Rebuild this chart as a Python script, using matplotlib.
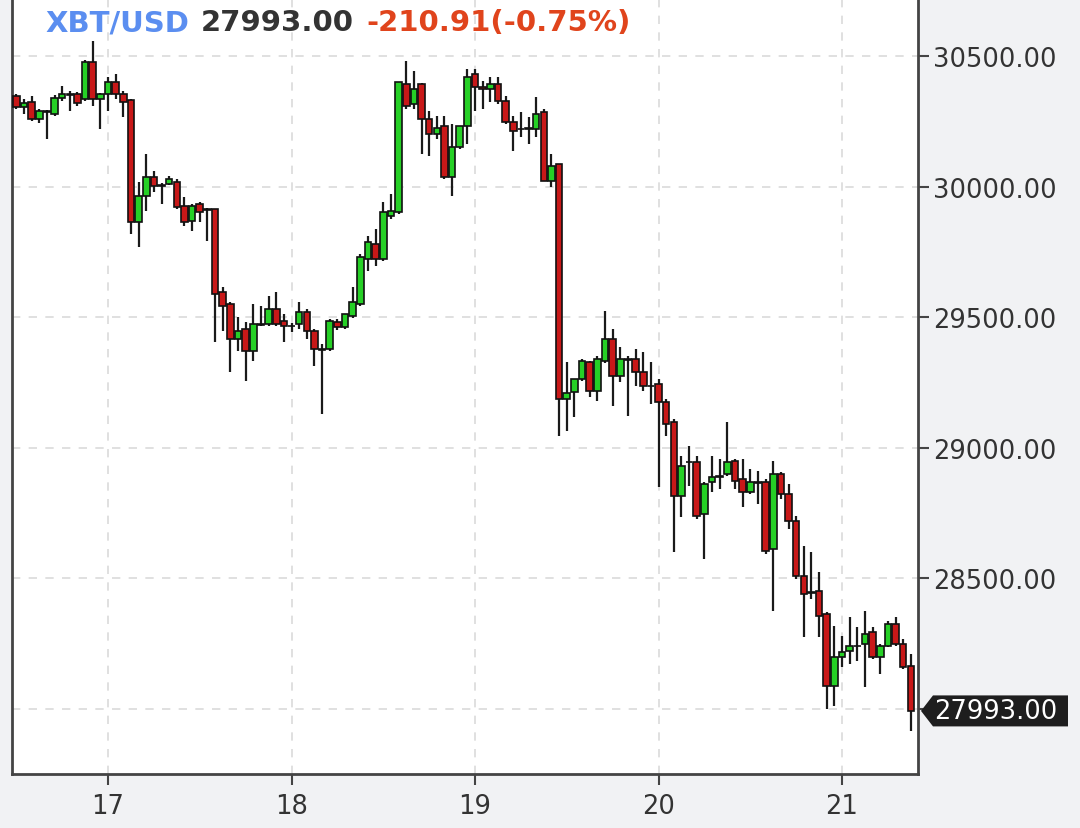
import numpy as np
import matplotlib.pyplot as plt
from matplotlib.patches import Polygon

# === Datos: velas horarias XBT/USD, del 16 12:00 al 21 09:00 ===
first_candle = 16.5  # día 16, 12:00

opens = [30347, 30305, 30324, 30259, 30290, 30278, 30339, 30355, 30355, 30335,
         30477, 30335, 30355, 30401, 30355, 30332, 29865, 29964, 30037, 30006,
         30010, 30018, 29926, 29868, 29934, 29914, 29914, 29597, 29551, 29417,
         29455, 29371, 29474, 29474, 29532, 29486, 29466, 29474, 29520, 29447,
         29378, 29378, 29482, 29463, 29505, 29551, 29723, 29780, 29723, 29888,
         29903, 30393, 30316, 30393, 30259, 30201, 30232, 30037, 30152, 30232,
         30431, 30381, 30374, 30393, 30328, 30247, 30221, 30221, 30221, 30286,
         30022, 30087, 29187, 29214, 29264, 29329, 29218, 29332, 29417, 29275,
         29340, 29340, 29290, 29237, 29244, 29175, 29099, 28816, 28946, 28946,
         28747, 28869, 28892, 28900, 28950, 28881, 28831, 28869, 28869, 28613,
         28900, 28823, 28720, 28509, 28448, 28452, 28364, 28088, 28199, 28222,
         28242, 28249, 28295, 28199, 28242, 28326, 28249, 28165]
highs = [30355, 30335, 30347, 30297, 30293, 30351, 30385, 30366, 30362, 30485,
         30557, 30358, 30420, 30431, 30366, 30335, 30018, 30125, 30060, 30014,
         30041, 30029, 29960, 29934, 29941, 29918, 29916, 29616, 29558, 29501,
         29482, 29551, 29543, 29581, 29597, 29512, 29478, 29558, 29532, 29455,
         29398, 29493, 29493, 29501, 29616, 29742, 29811, 29838, 29941, 29972,
         30401, 30481, 30443, 30397, 30290, 30270, 30270, 30240, 30232, 30450,
         30450, 30404, 30420, 30420, 30347, 30270, 30286, 30267, 30343, 30297,
         30125, 30087, 29329, 29264, 29340, 29332, 29352, 29524, 29455, 29386,
         29352, 29378, 29367, 29329, 29264, 29187, 29110, 28969, 29007, 28969,
         28869, 28969, 28957, 29099, 28957, 28957, 28919, 28911, 28881, 28950,
         28908, 28862, 28739, 28624, 28601, 28525, 28372, 28318, 28280, 28353,
         28314, 28376, 28314, 28249, 28337, 28353, 28268, 28211]
lows = [30297, 30278, 30251, 30244, 30182, 30270, 30328, 30290, 30309, 30328,
        30309, 30221, 30290, 30335, 30267, 29819, 29769, 29907, 29979, 29934,
        30006, 29914, 29849, 29830, 29865, 29792, 29405, 29447, 29290, 29371,
        29256, 29332, 29466, 29466, 29466, 29405, 29443, 29455, 29417, 29313,
        29130, 29371, 29451, 29455, 29497, 29543, 29677, 29696, 29715, 29876,
        29895, 30297, 30297, 30125, 30117, 30182, 30029, 29964, 30144, 30163,
        30290, 30297, 30324, 30316, 30240, 30136, 30190, 30163, 30190, 30022,
        29999, 29045, 29065, 29118, 29256, 29195, 29179, 29325, 29160, 29252,
        29122, 29237, 29218, 29168, 28850, 29045, 28601, 28735, 28854, 28728,
        28575, 28831, 28843, 28892, 28843, 28774, 28823, 28785, 28594, 28376,
        28804, 28689, 28498, 28276, 28421, 28276, 28000, 28012, 28161, 28173,
        28184, 28085, 28192, 28134, 28238, 28242, 28153, 27916]
closes = [30305, 30320, 30259, 30290, 30286, 30339, 30355, 30352, 30320, 30477,
          30335, 30355, 30401, 30355, 30324, 29865, 29964, 30037, 30002, 30004,
          30029, 29922, 29865, 29926, 29903, 29912, 29589, 29543, 29417, 29447,
          29371, 29474, 29472, 29532, 29474, 29466, 29468, 29520, 29447, 29378,
          29375, 29486, 29463, 29512, 29558, 29731, 29788, 29723, 29903, 29907,
          30401, 30309, 30374, 30259, 30201, 30224, 30037, 30152, 30232, 30420,
          30381, 30374, 30393, 30328, 30247, 30213, 30219, 30222, 30278, 30022,
          30079, 29187, 29210, 29264, 29332, 29218, 29340, 29417, 29275, 29340,
          29338, 29290, 29237, 29235, 29175, 29091, 28816, 28931, 28944, 28739,
          28862, 28888, 28890, 28946, 28873, 28831, 28869, 28865, 28605, 28900,
          28823, 28720, 28509, 28441, 28446, 28356, 28088, 28199, 28219, 28242,
          28240, 28287, 28199, 28242, 28326, 28249, 28161, 27993]

day_ticks = [17, 18, 19, 20, 21]
price_ticks = [28000, 28500, 29000, 29500, 30000, 30500]
pair = "XBT/USD"
last_price = 27993.00
change = -210.91
change_pct = -0.75

# === Estilo ===
BG = "#f1f2f4"
GREEN = "#26d026"
RED = "#c81818"
EDGE = "#111111"
FONT_SIZE = 18.5

W, H = 1080, 829
fig = plt.figure(figsize=(W / 100, H / 100), dpi=100, facecolor=BG)
ax = fig.add_axes([12 / W, 54 / H, 906 / W, 775 / H], facecolor="white")

t = first_candle + np.arange(len(opens)) / 24
o = np.array(opens, dtype=float)
c = np.array(closes, dtype=float)
hi = np.array(highs, dtype=float)
lo = np.array(lows, dtype=float)

# mechas
ax.vlines(t, lo, hi, color="#1a1a1a", linewidth=1.6, zorder=2)
# cuerpos
colors = [GREEN if cc >= oo else RED for oo, cc in zip(o, c)]
body = np.maximum(np.abs(c - o), 2)
ax.bar(t, body, bottom=np.minimum(o, c), width=0.86 / 24, color=colors,
       edgecolor=EDGE, linewidth=1.2, zorder=3)

ax.set_xlim(16.4767, 21.414)
ax.set_ylim(27751.5, 30718)

ax.set_xticks(day_ticks)
ax.set_xticklabels([str(d) for d in day_ticks])
ax.set_yticks(price_ticks)
ax.set_yticklabels(["" if p == 28000 else f"{p:.2f}" for p in price_ticks])

ax.yaxis.tick_right()
ax.tick_params(axis="y", direction="out", length=8, width=1.5, color="#444444",
               labelsize=FONT_SIZE, labelcolor="#333333", pad=3)
ax.tick_params(axis="x", direction="out", length=8, width=1.5, color="#444444",
               labelsize=FONT_SIZE, labelcolor="#333333", pad=6)

ax.grid(True, color="#dadada", linestyle=(0, (5, 5)), linewidth=1.2, zorder=0)
ax.set_axisbelow(True)

for side in ["left", "bottom", "right"]:
    ax.spines[side].set_color("#444444")
    ax.spines[side].set_linewidth(2)
ax.spines["top"].set_visible(False)

# === Etiqueta del último precio ===
fig.canvas.draw()
renderer = fig.canvas.get_renderer()
y_px = ax.transData.transform((t[-1], last_price))[1]
x0 = ax.transAxes.transform((1, 0))[0]
pts = [(x0 + 3, y_px), (x0 + 15, y_px + 15.5), (W - 12, y_px + 15.5),
       (W - 12, y_px - 15.5), (x0 + 15, y_px - 15.5)]
tag = Polygon([(px / W, py / H) for px, py in pts], closed=True,
              transform=fig.transFigure, facecolor="#1e1e1e", edgecolor="none")
fig.patches.append(tag)
fig.text((x0 + 16) / W, y_px / H, f"{last_price:.2f}", color="white",
         fontsize=FONT_SIZE, va="center", ha="left")

# === Título multicolor ===
parts = [(pair, "#5b8ef0"),
         (f"{last_price:.2f}", "#333333"),
         (f"{change:.2f}({change_pct:.2f}%)", "#e0441c")]
x = 45
for s, col in parts:
    txt = fig.text(x / W, 1 - 23 / H, s, color=col, fontsize=21,
                   fontweight="bold", va="center", ha="left")
    bb = txt.get_window_extent(renderer)
    x = bb.x1 + 12

fig.savefig("out.png", dpi=100, facecolor=BG)
